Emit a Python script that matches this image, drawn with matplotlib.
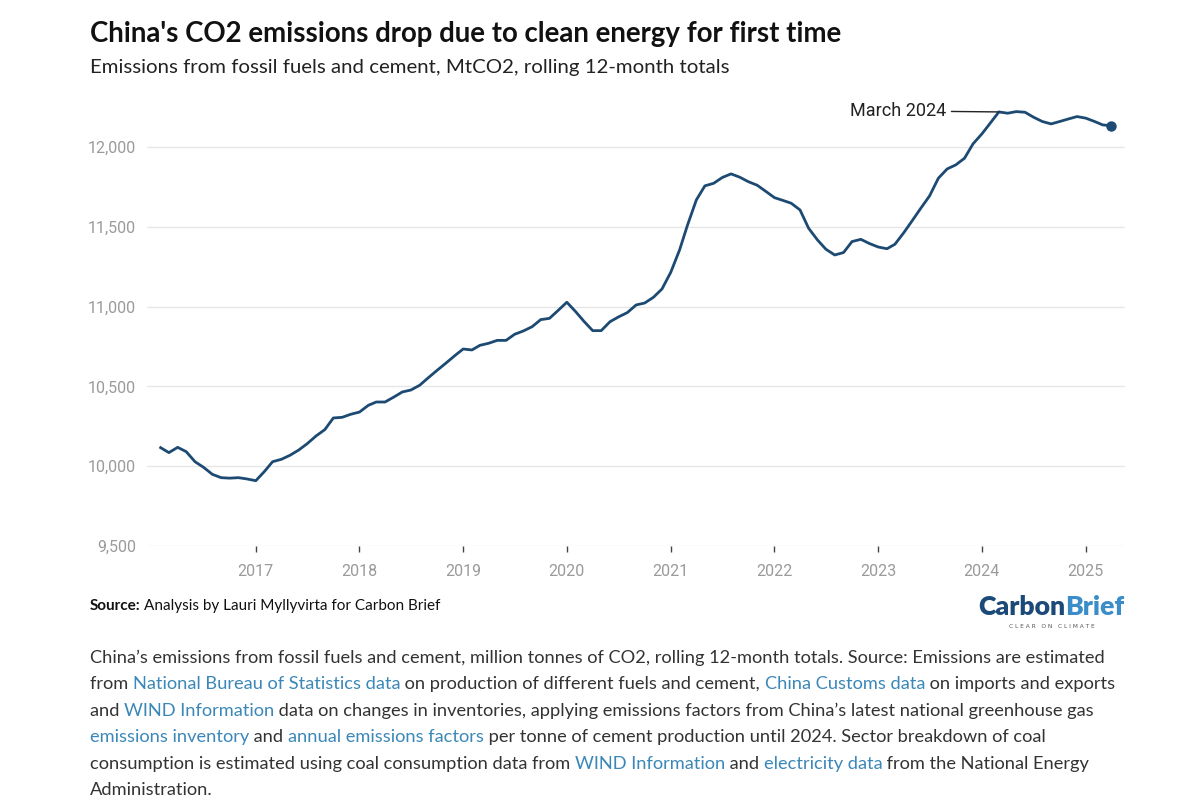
import matplotlib
matplotlib.use("Agg")
import matplotlib.pyplot as plt
from matplotlib import font_manager
import pandas as pd

# Valores mensais (MtCO2, soma móvel de 12 meses)
anos_2016 = [10116, 10085, 10118, 10091, 10028, 9993, 9949, 9928, 9925, 9928, 9920, 9909]
anos_2017 = [9968, 10028, 10043, 10068, 10101, 10141, 10189, 10229, 10302, 10306, 10325, 10339]
anos_2018 = [10381, 10402, 10402, 10432, 10465, 10477, 10507, 10555, 10600, 10645, 10690, 10734]
anos_2019 = [10728, 10757, 10770, 10788, 10788, 10826, 10847, 10874, 10918, 10926, 10975, 11027]
anos_2020 = [10968, 10908, 10849, 10849, 10905, 10935, 10962, 11010, 11022, 11058, 11110, 11215]
anos_2021 = [11355, 11511, 11668, 11756, 11772, 11808, 11831, 11810, 11782, 11760, 11722, 11682]
anos_2022 = [11664, 11647, 11605, 11491, 11418, 11359, 11323, 11338, 11407, 11421, 11395, 11373]
anos_2023 = [11362, 11390, 11462, 11538, 11618, 11693, 11804, 11862, 11887, 11929, 12019, 12081]
anos_2024 = [12152, 12219, 12211, 12221, 12217, 12186, 12159, 12144, 12159, 12175, 12190, 12180]
anos_2025 = [12159, 12138, 12132]

valores = (anos_2016 + anos_2017 + anos_2018 + anos_2019 + anos_2020 +
           anos_2021 + anos_2022 + anos_2023 + anos_2024 + anos_2025)
datas = pd.date_range("2016-02-01", periods=len(valores), freq="MS")

ticks_y = [9500, 10000, 10500, 11000, 11500, 12000]
anos_ticks = list(range(2017, 2026))
data_anotacao = pd.Timestamp("2024-03-01")
texto_anotacao = "March 2024"

titulo = "China's CO2 emissions drop due to clean energy for first time"
subtitulo = "Emissions from fossil fuels and cement, MtCO2, rolling 12-month totals"

# linhas da legenda de baixo: (texto, é link?)
legenda = [
    [("China\u2019s emissions from fossil fuels and cement, million tonnes of CO2, rolling 12-month totals. Source: Emissions are estimated", False)],
    [("from ", False), ("National Bureau of Statistics data", True), (" on production of different fuels and cement, ", False),
     ("China Customs data", True), (" on imports and exports", False)],
    [("and ", False), ("WIND Information", True), (" data on changes in inventories, applying emissions factors from China\u2019s latest national greenhouse gas", False)],
    [("emissions inventory", True), (" and ", False), ("annual emissions factors", True),
     (" per tonne of cement production until 2024. Sector breakdown of coal", False)],
    [("consumption is estimated using coal consumption data from ", False), ("WIND Information", True), (" and ", False),
     ("electricity data", True), (" from the National Energy", False)],
    [("Administration.", False)],
]

# fontes
instaladas = {f.name for f in font_manager.fontManager.ttflist}
fonte_narrow = "Liberation Sans Narrow" if "Liberation Sans Narrow" in instaladas else "Lato"
fonte_texto = "Lato"
fonte_eixo = "Roboto"

W, H = 1191, 809
fig = plt.figure(figsize=(W / 100, H / 100), dpi=100)
fig.patch.set_facecolor("white")


def fx(x):
    return x / W


def fy(y):
    return 1 - y / H


# área do gráfico
ax = fig.add_axes([fx(147), fy(546), fx(1125) - fx(147), fy(99) - fy(546)])
ax.plot(datas, valores, color="#1d4a72", lw=2.0, solid_joinstyle="round", zorder=3)
ax.scatter([datas[-1]], [valores[-1]], s=42, color="#1d4a72", zorder=4)

ax.set_ylim(9500, 12300)
ax.set_xlim(pd.Timestamp("2015-12-15"), pd.Timestamp("2025-05-19"))
ax.set_yticks(ticks_y)
ax.set_yticklabels([f"{v:,}" for v in ticks_y])
ax.set_xticks([pd.Timestamp(f"{a}-01-01") for a in anos_ticks])
ax.set_xticklabels([str(a) for a in anos_ticks])
ax.grid(axis="y", color="#e6e6e6", lw=1.0, zorder=0)
ax.set_axisbelow(True)
for s in ax.spines.values():
    s.set_visible(False)
ax.tick_params(axis="y", length=0, pad=8, labelsize=11.5, labelcolor="#9a9a9a")
ax.tick_params(axis="x", length=4, width=1, color="#444444", pad=9,
               labelsize=11.5, labelcolor="#9a9a9a")
for lab in ax.get_xticklabels() + ax.get_yticklabels():
    lab.set_fontfamily(fonte_eixo)

idx = list(datas).index(data_anotacao)
ax.annotate(texto_anotacao, xy=(datas[idx], valores[idx]), xytext=(-53, 1),
            textcoords="offset pixels", ha="right", va="center",
            fontsize=13, color="#222222", fontfamily=fonte_eixo,
            arrowprops=dict(arrowstyle="-", color="#222222", lw=1.0,
                            shrinkA=2, shrinkB=0))

renderer = fig.canvas.get_renderer()


def largura(texto, **kw):
    t = fig.text(0, 0, texto + "|", **kw)
    w1 = t.get_window_extent(renderer).width
    t.remove()
    t = fig.text(0, 0, "|", **kw)
    w2 = t.get_window_extent(renderer).width
    t.remove()
    return w1 - w2


def ajustar(texto, alvo, tamanho, **kw):
    w = largura(texto, fontsize=tamanho, **kw)
    return tamanho * alvo / w


# título e subtítulo
tam = ajustar(titulo, 753, 20, fontfamily=fonte_narrow, fontweight="bold")
fig.text(fx(90), fy(34), titulo, fontsize=tam, fontfamily=fonte_narrow,
         fontweight="bold", color="#111111", va="center")
tam = ajustar(subtitulo, 640, 14, fontfamily=fonte_narrow)
fig.text(fx(90), fy(68), subtitulo, fontsize=tam, fontfamily=fonte_narrow,
         color="#222222", va="center")

# fonte dos dados
tam_fonte = ajustar("Source: Analysis by Lauri Myllyvirta for Carbon Brief", 350, 10,
                    fontfamily=fonte_narrow)
fig.text(fx(90), fy(606), "Source:", fontsize=tam_fonte, fontfamily=fonte_narrow,
         fontweight="bold", color="#111111", va="center")
w = largura("Source: ", fontsize=tam_fonte, fontfamily=fonte_narrow, fontweight="bold")
fig.text(fx(90 + w), fy(606), "Analysis by Lauri Myllyvirta for Carbon Brief",
         fontsize=tam_fonte, fontfamily=fonte_narrow, color="#111111", va="center")

# logo Carbon Brief
tam_logo = ajustar("CarbonBrief", 147, 20, fontfamily=fonte_narrow, fontweight="heavy")
fig.text(fx(978), fy(607), "Carbon", fontsize=tam_logo, fontfamily=fonte_narrow,
         fontweight="heavy", color="#1b4a78", va="center")
w = largura("Carbon", fontsize=tam_logo, fontfamily=fonte_narrow, fontweight="heavy")
fig.text(fx(978 + w), fy(607), "Brief", fontsize=tam_logo, fontfamily=fonte_narrow,
         fontweight="heavy", color="#3a8dc8", va="center")
fig.text(fx(1052), fy(627), "C L E A R   O N   C L I M A T E", fontsize=4.2,
         fontfamily="DejaVu Sans", color="#555555", ha="center", va="center")

# legenda com links
tam_leg = ajustar(legenda[0][0][0], 1013, 12, fontfamily=fonte_texto)
y = 658
for linha in legenda:
    x = 90
    for texto, link in linha:
        cor = "#3a87b8" if link else "#333333"
        fig.text(fx(x), fy(y), texto, fontsize=tam_leg, fontfamily=fonte_texto,
                 color=cor, va="center")
        x += largura(texto, fontsize=tam_leg, fontfamily=fonte_texto)
    y += 26.4

fig.savefig("out.png", dpi=100)
